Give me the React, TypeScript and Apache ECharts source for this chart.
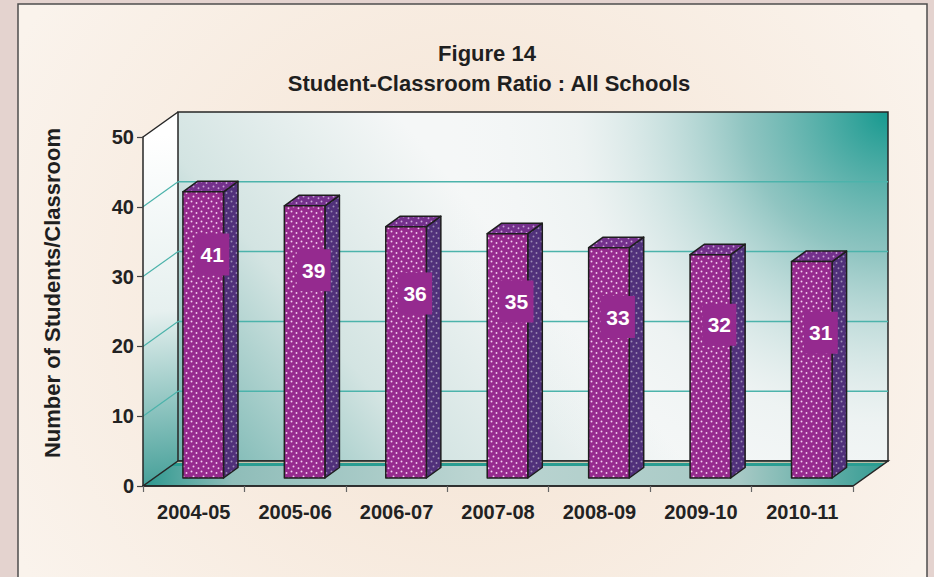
import React, { useEffect, useRef } from 'react';
import * as echarts from 'echarts';

const categories = ['2004-05', '2005-06', '2006-07', '2007-08', '2008-09', '2009-10', '2010-11'];
const ratios = [41, 39, 36, 35, 33, 32, 31];
const yTicks = [0, 10, 20, 30, 40, 50];
const titleLines = ['Figure 14', 'Student-Classroom Ratio : All Schools'];
const yAxisTitle = 'Number of Students/Classroom';

const FONT = '"Liberation Sans", Arial, Helvetica, sans-serif';
const DX = 35;
const DY = -25;
const BAR_SHIFT_X = 9.5;
const BAR_SHIFT_Y = -8;
const BAR_DX = 14.5;
const BAR_DY = -10.5;

function makeDots(bg: string, dot: string): HTMLCanvasElement {
  const size = 10;
  const c = document.createElement('canvas');
  c.width = size;
  c.height = size;
  const ctx = c.getContext('2d')!;
  ctx.fillStyle = bg;
  ctx.fillRect(0, 0, size, size);
  ctx.fillStyle = dot;
  const pts = [[1.5, 1.5], [6.5, 3], [3.5, 6.5], [8.5, 8.2]];
  pts.forEach(([x, y]) => {
    ctx.beginPath();
    ctx.arc(x, y, 0.95, 0, Math.PI * 2);
    ctx.fill();
  });
  return c;
}

export default function App() {
  const ref = useRef<HTMLDivElement>(null);

  useEffect(() => {
    if (!ref.current) return;
    document.body.style.margin = '0';
    const chart = echarts.init(ref.current, undefined, { renderer: 'svg' });

    const frontPat = makeDots('#962a8e', '#f3cdef');
    const sidePat = makeDots('#50307a', '#9c8cb4');
    const topPat = makeDots('#74308c', '#c9a6d6');
    const pattern = (img: HTMLCanvasElement) => ({ image: img, repeat: 'repeat', imageWidth: 10, imageHeight: 10 });

    const yMax = yTicks[yTicks.length - 1];
    const dark = '#262626';
    const gridTeal = '#4cb3ab';

    const wallsRender = (params: any, api: any) => {
      const [x0, y0] = api.coord([0, 0]);
      const B = api.size([1, 0])[0];
      const left = x0 - B / 2;
      const right = left + B * categories.length;
      const yTop = api.coord([0, yMax])[1];
      const yBot = y0;
      const children: any[] = [];
      // side wall
      children.push({
        type: 'polygon',
        shape: { points: [[left, yTop], [left + DX, yTop + DY], [left + DX, yBot + DY], [left, yBot]] },
        style: {
          fill: {
            type: 'linear', global: true, x: left, y: yTop, x2: left + DX, y2: yBot,
            colorStops: [
              { offset: 0, color: '#ffffff' },
              { offset: 0.5, color: '#e6f0ef' },
              { offset: 1, color: '#449f98' },
            ],
          },
        },
      });
      // back wall base
      const bw = { x: left + DX, y: yTop + DY, width: right - left, height: yBot - yTop };
      children.push({
        type: 'rect', shape: bw,
        style: {
          fill: {
            type: 'linear', global: true, x: left + DX, y: yBot + DY, x2: left + DX + 300, y2: yBot + DY - 250,
            colorStops: [
              { offset: 0, color: '#6fb2ad' },
              { offset: 0.5, color: '#d3e4e2' },
              { offset: 1, color: '#f5f7f7' },
            ],
          },
        },
      });
      children.push({
        type: 'rect', shape: bw,
        style: {
          fill: {
            type: 'radial', global: true, x: right + DX, y: yTop + DY, r: 480,
            colorStops: [
              { offset: 0, color: 'rgba(22,153,143,1)' },
              { offset: 0.3, color: 'rgba(100,175,170,0.7)' },
              { offset: 0.65, color: 'rgba(215,230,229,0.25)' },
              { offset: 1, color: 'rgba(255,255,255,0)' },
            ],
          },
        },
      });
      children.push({
        type: 'rect', shape: bw,
        style: { fill: 'none', stroke: dark, lineWidth: 1.5 },
      });
      // grid lines
      yTicks.forEach((t) => {
        if (t === 0 || t === yMax) return;
        const y = api.coord([0, t])[1];
        children.push({
          type: 'line',
          shape: { x1: left + DX, y1: y + DY, x2: right + DX, y2: y + DY },
          style: { stroke: gridTeal, lineWidth: 1.5 },
        });
        children.push({
          type: 'line',
          shape: { x1: left, y1: y, x2: left + DX, y2: y + DY },
          style: { stroke: gridTeal, lineWidth: 1.2 },
        });
      });
      // floor
      const at = (x: number, t: number) => [x + DX * t, yBot + DY * t];
      children.push({
        type: 'polygon',
        shape: { points: [[left, yBot], [right, yBot], [right + DX, yBot + DY], [left + DX, yBot + DY]] },
        style: {
          fill: {
            type: 'linear', global: true, x: left, y: 0, x2: right + DX, y2: 0,
            colorStops: [
              { offset: 0, color: '#2b978e' },
              { offset: 0.12, color: '#8fbdb9' },
              { offset: 0.45, color: '#bcd5d2' },
              { offset: 0.8, color: '#a7c9c5' },
              { offset: 1, color: '#329b92' },
            ],
          },
        },
      });
      children.push({
        type: 'polygon',
        shape: { points: [at(left, 0.93), at(right, 0.93), at(right, 0.8), at(left, 0.8)] },
        style: { fill: '#2a9d92' },
      });
      children.push({
        type: 'line',
        shape: { x1: at(left, 0.95)[0], y1: at(left, 0.95)[1], x2: at(right, 0.95)[0], y2: at(right, 0.95)[1] },
        style: { stroke: '#e2c9ab', lineWidth: 1.2 },
      });
      children.push({
        type: 'polygon',
        shape: { points: [[left, yBot], [right, yBot], [right + DX, yBot + DY], [left + DX, yBot + DY]] },
        style: { fill: 'none', stroke: dark, lineWidth: 1.5 },
      });
      children.push({
        type: 'line',
        shape: { x1: left, y1: yTop, x2: left + DX, y2: yTop + DY },
        style: { stroke: dark, lineWidth: 1.5 },
      });
      return { type: 'group', children };
    };

    const barsRender = (params: any, api: any) => {
      const i = api.value(0);
      const v = api.value(1);
      const [cx, yv] = api.coord([i, v]);
      const y0 = api.coord([i, 0])[1];
      const B = api.size([1, 0])[0];
      const W = B * 0.4;
      const fl = cx - W / 2 + BAR_SHIFT_X;
      const fr = fl + W;
      const ft = yv + BAR_SHIFT_Y;
      const fb = y0 + BAR_SHIFT_Y;
      const ly = api.coord([i, v * 1.12 - 13.9])[1] + BAR_SHIFT_Y;
      const lx = (fl + fr) / 2 + 9;
      const stroke = { stroke: '#1e1e1e', lineWidth: 1.5, lineJoin: 'round' };
      return {
        type: 'group',
        children: [
          {
            type: 'polygon',
            shape: { points: [[fr, ft], [fr + BAR_DX, ft + BAR_DY], [fr + BAR_DX, fb + BAR_DY], [fr, fb]] },
            style: { fill: pattern(sidePat), ...stroke },
          },
          {
            type: 'polygon',
            shape: { points: [[fl, ft], [fl + BAR_DX, ft + BAR_DY], [fr + BAR_DX, ft + BAR_DY], [fr, ft]] },
            style: { fill: pattern(topPat), ...stroke },
          },
          {
            type: 'rect',
            shape: { x: fl, y: ft, width: W, height: fb - ft },
            style: { fill: pattern(frontPat), ...stroke },
          },
          {
            type: 'rect',
            shape: { x: lx - 17, y: ly - 21, width: 34, height: 42 },
            style: { fill: '#952a8f' },
          },
          {
            type: 'text',
            x: lx,
            y: ly,
            style: {
              text: String(v),
              fill: '#ffffff',
              font: `bold 21px ${FONT}`,
              align: 'center',
              verticalAlign: 'middle',
            },
          },
        ],
      };
    };

    chart.setOption({
      animation: false,
      backgroundColor: '#e4d3cf',
      tooltip: { show: false },
      graphic: {
        elements: [
          {
            type: 'rect',
            z: -10,
            shape: { x: 18, y: 4, width: 909, height: 600 },
            style: {
              fill: {
                type: 'radial', global: true, x: 470, y: 300, r: 520,
                colorStops: [
                  { offset: 0, color: '#f4e2d1' },
                  { offset: 1, color: '#faf3ec' },
                ],
              },
              stroke: '#4d4d4d',
              lineWidth: 1.5,
            },
          },
          {
            type: 'text', z: 100, x: 487, y: 53,
            style: { text: titleLines[0], font: `bold 22px ${FONT}`, fill: '#1f1f1f', align: 'center', verticalAlign: 'middle' },
          },
          {
            type: 'text', z: 100, x: 489, y: 83,
            style: { text: titleLines[1], font: `bold 22px ${FONT}`, fill: '#1f1f1f', align: 'center', verticalAlign: 'middle' },
          },
          {
            type: 'text', z: 100, x: 52, y: 293, rotation: Math.PI / 2,
            style: { text: yAxisTitle, font: `bold 22px ${FONT}`, fill: '#1f1f1f', align: 'center', verticalAlign: 'middle' },
          },
        ],
      },
      grid: { left: 143, top: 137, width: 710, height: 349 },
      xAxis: {
        type: 'category',
        data: categories,
        boundaryGap: true,
        z: 10,
        axisLine: { show: true, lineStyle: { color: '#262626', width: 1.5 } },
        axisTick: { show: true, length: 6, lineStyle: { color: '#666', width: 1.2 } },
        axisLabel: { fontFamily: FONT, fontWeight: 'bold', fontSize: 20, color: '#222', margin: 16 },
        splitLine: { show: false },
      },
      yAxis: {
        type: 'value',
        min: 0,
        max: yMax,
        interval: 10,
        z: 10,
        axisLine: { show: true, lineStyle: { color: '#262626', width: 1.5 } },
        axisTick: { show: true, length: 6, lineStyle: { color: '#444', width: 1.2 } },
        axisLabel: { fontFamily: FONT, fontWeight: 'bold', fontSize: 20, color: '#222', margin: 9 },
        splitLine: { show: false },
      },
      series: [
        {
          type: 'custom',
          z: 1,
          silent: true,
          renderItem: wallsRender,
          data: [[0, 0]],
          encode: { x: 0, y: 1 },
        },
        {
          type: 'custom',
          z: 3,
          silent: true,
          renderItem: barsRender,
          data: ratios.map((v, i) => [i, v]),
          encode: { x: 0, y: 1 },
        },
      ],
    });

    return () => chart.dispose();
  }, []);

  return (
    <div style={{ position: 'fixed', left: 0, top: 0, width: 934, height: 577 }}>
      <div ref={ref} style={{ width: 934, height: 577 }} />
    </div>
  );
}
